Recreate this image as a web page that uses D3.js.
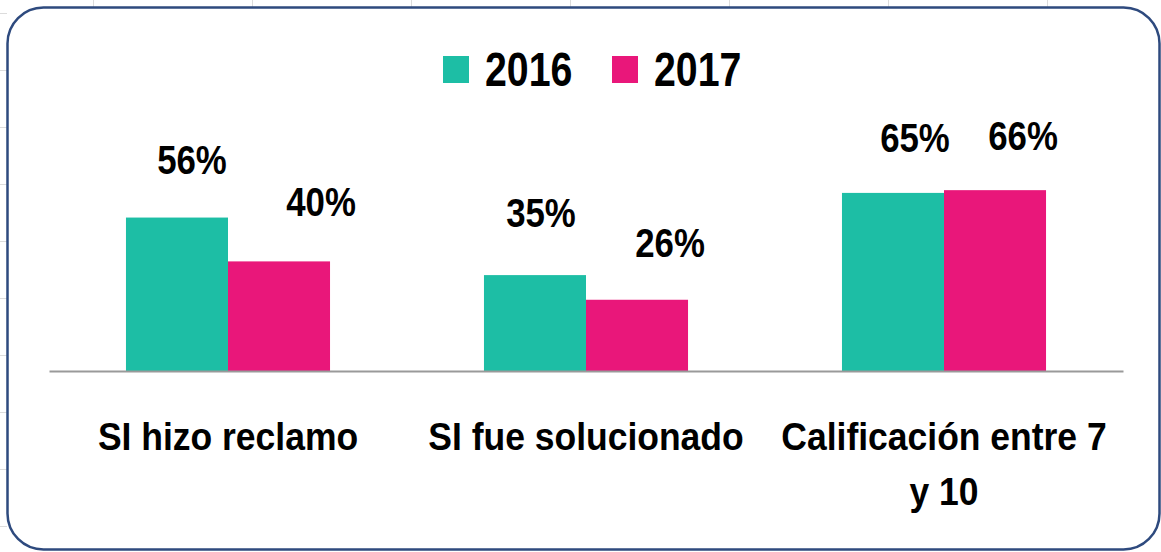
<!DOCTYPE html>
<html>
<head>
<meta charset="utf-8">
<script src="https://cdn.jsdelivr.net/npm/d3@7"></script>
<style>
  html, body { margin: 0; padding: 0; background: #ffffff; }
  svg { display: block; }
  text { font-family: "Liberation Sans", Arial, sans-serif; font-weight: bold; fill: #000; }
</style>
</head>
<body>
<svg id="chart" width="1161" height="552"></svg>
<script>
// Survey results: share of respondents per question, by year
const categories = ["SI hizo reclamo", "SI fue solucionado", "Calificación entre 7 y 10"];
const categoryLines = [["SI hizo reclamo"], ["SI fue solucionado"], ["Calificación entre 7", "y 10"]];
const years = ["2016", "2017"];
const values2016 = [0.56, 0.35, 0.65];
const values2017 = [0.40, 0.26, 0.66];
const seriesColors = ["#1DBEA5", "#E9177A"];

// Hand-placed data label offsets (dx, dy) per bar, in draw order
const labelNudge = [[15, 0], [42, -1], [6, -4], [33, 1], [22, 3], [28, 4]];

const svg = d3.select("#chart");

// Condensed bold text: regular bold face squeezed horizontally
function narrowText(parent, x, y, str, size, sx, anchor) {
  return parent.append("g")
    .attr("transform", `translate(${x},${y}) scale(${sx},1)`)
    .append("text")
    .attr("text-anchor", anchor || "middle")
    .style("font-size", size + "px")
    .text(str);
}

// Faint worksheet grid showing in the margin around the chart frame
const grid = svg.append("g").attr("stroke", "#dcdcdc").attr("stroke-width", 1);
d3.range(93, 1161, 159).forEach(x => {
  grid.append("line").attr("x1", x + 0.5).attr("x2", x + 0.5).attr("y1", 0).attr("y2", 7);
});
d3.range(13, 552, 57).forEach(y => {
  grid.append("line").attr("x1", 0).attr("x2", 7).attr("y1", y + 0.5).attr("y2", y + 0.5);
});

// Rounded chart frame
svg.append("rect")
  .attr("x", 7.5).attr("y", 7.5)
  .attr("width", 1152).attr("height", 542)
  .attr("rx", 36).attr("ry", 36)
  .attr("fill", "#ffffff")
  .attr("stroke", "#2E4A7E")
  .attr("stroke-width", 2.5);

const baseY = 371;
const x0 = d3.scaleBand().domain(categories).range([49, 1123]).paddingInner(0.43).paddingOuter(0.215);
const x1 = d3.scaleBand().domain(years).range([0, x0.bandwidth()]);
const y = d3.scaleLinear().domain([0, 1]).range([baseY, baseY - 274]);
const color = d3.scaleOrdinal().domain(years).range(seriesColors);

const rows = [];
categories.forEach((c, i) => {
  rows.push({ cat: c, year: "2016", value: values2016[i] });
  rows.push({ cat: c, year: "2017", value: values2017[i] });
});

// Bars
svg.append("g").selectAll("rect")
  .data(rows)
  .join("rect")
  .attr("x", d => x0(d.cat) + x1(d.year))
  .attr("y", d => y(d.value))
  .attr("width", x1.bandwidth())
  .attr("height", d => y(0) - y(d.value))
  .attr("fill", d => color(d.year));

// Category axis baseline
const xAxis = svg.append("g").attr("transform", `translate(0,${baseY})`)
  .call(d3.axisBottom(x0).tickSize(0).tickFormat(""));
xAxis.select(".domain").attr("stroke", "#9a9a9a").attr("stroke-width", 2);

// Category labels (wrapped)
const catLabels = svg.append("g");
categories.forEach((c, i) => {
  categoryLines[i].forEach((line, j) => {
    narrowText(catLabels, x0(c) + x0.bandwidth() / 2, 450 + j * 55, line, 39, 0.91);
  });
});

// Data labels
const fmt = d3.format(".0%");
const valueLabels = svg.append("g");
rows.forEach((d, i) => {
  narrowText(valueLabels,
    x0(d.cat) + x1(d.year) + x1.bandwidth() / 2 + labelNudge[i][0],
    y(d.value) - 44 + labelNudge[i][1],
    fmt(d.value), 40.5, 0.86);
});

// Legend
const legend = svg.append("g");
const legendX = [443, 612];
years.forEach((yr, i) => {
  legend.append("rect")
    .attr("x", legendX[i]).attr("y", 56)
    .attr("width", 26).attr("height", 27)
    .attr("fill", color(yr));
  narrowText(legend, legendX[i] + 42, 86, yr, 48.5, 0.81, "start");
});
</script>
</body>
</html>
